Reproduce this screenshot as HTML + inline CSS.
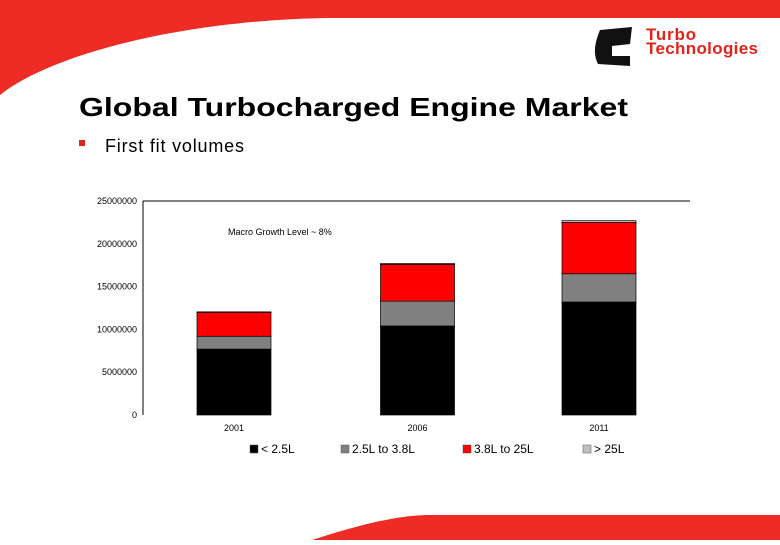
<!DOCTYPE html>
<html><head><meta charset="utf-8"><style>
body{margin:0;width:780px;height:540px;overflow:hidden;background:#fff;font-family:"Liberation Sans",Arial,sans-serif}
</style></head><body>
<svg width="780" height="540" xmlns="http://www.w3.org/2000/svg">
<path d="M0,0 H780 V18 H330 C180,20 50,55 0,95 Z" fill="#ee2b24"/>
<path d="M312,540 C350,528 390,516 427,515 H780 V540 Z" fill="#ee2b24"/>
<g>
<path d="M600,30 C596,40 592,52 598,64 L630,66 L630,56 L612,56 L612,46 L630,44 L632,27 Z" fill="#111"/>
<text x="646" y="40" font-size="17" font-weight="bold" fill="#e2231a" textLength="50">Turbo</text>
<text x="646" y="54" font-size="17" font-weight="bold" fill="#e2231a" textLength="112">Technologies</text>
</g>
<text x="79" y="116" font-size="26" font-weight="bold" fill="#000" textLength="549" lengthAdjust="spacingAndGlyphs">Global Turbocharged Engine Market</text>
<rect x="79" y="140" width="6" height="6" fill="#e2231a"/>
<text x="105" y="152" font-size="18" fill="#000" textLength="139">First fit volumes</text>
<g id="chart"></g>
</svg>
<script>
const categories=["2001","2006","2011"];
const seriesNames=["< 2.5L","2.5L to 3.8L","3.8L to 25L","> 25L"];
const s1=[7.7,10.4,13.2];
const s2=[1.5,2.9,3.3];
const s3=[2.8,4.3,6.0];
const s4=[0.05,0.1,0.2];
const yTicks=[0,5000000,10000000,15000000,20000000,25000000];
const colors=["#000","#808080","#ff0000","#c0c0c0"];
const NS="http://www.w3.org/2000/svg";
const g=document.getElementById('chart');
const y0=415,y1=201,x0=143,x1=690;
const yScale=v=>y0-(v/25000000)*(y0-y1);
const centers=[234,417.5,599];
const xScale=i=>centers[i];
function mk(t,a){const e=document.createElementNS(NS,t);for(const k in a)e.setAttribute(k,a[k]);g.appendChild(e);return e;}
let ax=mk('line',{x1:x0,y1:y1,x2:x0,y2:y0,stroke:'#000','stroke-width':1});


let tl=mk('line',{x1:x0,y1:y1,x2:x1,y2:y1,stroke:'#000','stroke-width':1});


yTicks.forEach(v=>{const t=mk('text',{x:x0-6,y:yScale(v)+3,'font-size':9,'text-anchor':'end',fill:'#000'});t.textContent=String(v);

});
const series=[s1,s2,s3,s4];
categories.forEach((c,i)=>{let acc=0;
series.forEach((s,k)=>{const v=s[i]*1e6;const top=yScale(acc+v),bot=yScale(acc);acc+=v;
const r=mk('rect',{x:xScale(i)-37,y:top,width:74,height:Math.max(bot-top,0.5),fill:colors[k],stroke:'#000','stroke-width':0.7});

});
const t=mk('text',{x:xScale(i),y:431,'font-size':9,'text-anchor':'middle'});t.textContent=c;

});
const ann=mk('text',{x:228,y:235,'font-size':9});ann.textContent="Macro Growth Level ~ 8%";


const lx=[250,341,463,583];
seriesNames.forEach((n,k)=>{const r=mk('rect',{x:lx[k],y:445,width:8,height:8,fill:colors[k],stroke:'#555','stroke-width':0.5});


const t=mk('text',{x:lx[k]+11,y:453,'font-size':12});t.textContent=n;

});
</script>
</body></html>
